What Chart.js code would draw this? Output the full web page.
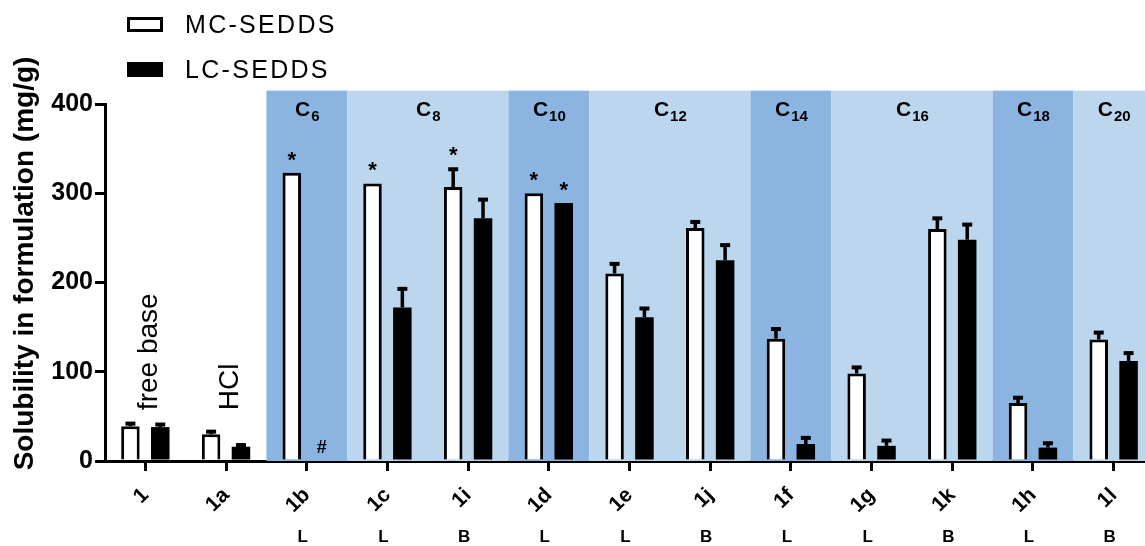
<!DOCTYPE html>
<html>
<head>
<meta charset="utf-8">
<script src="https://cdn.jsdelivr.net/npm/chart.js@4.4.3/dist/chart.umd.min.js"></script>
<style>
  html, body { margin: 0; padding: 0; background: #fff; overflow: hidden; }
  #wrap { position: relative; width: 1145px; height: 546px; overflow: hidden; }
  #legend { position: absolute; left: 127px; top: 2px; font-family: "Liberation Sans", Arial, sans-serif; font-size: 25px; letter-spacing: 2.3px; }
  .item { display: flex; align-items: center; height: 45px; }
  .box { width: 30px; height: 9px; border: 3px solid #000; margin-right: 22px; }
</style>
</head>
<body>
<div id="wrap">
  <canvas id="c" width="1154" height="546"></canvas>
  <div id="legend">
    <div class="item"><span class="box" style="background:#fff"></span>MC-SEDDS</div>
    <div class="item"><span class="box" style="background:#000"></span>LC-SEDDS</div>
  </div>
</div>
<script>
// ---------- data ----------
const compounds = ["1", "1a", "1b", "1c", "1i", "1d", "1e", "1j", "1f", "1g", "1k", "1h", "1l"];
const chainType = ["", "", "L", "L", "B", "L", "L", "B", "L", "L", "B", "L", "B"];
const saltNote = ["free base", "HCl", "", "", "", "", "", "", "", "", "", "", ""];
const yTitle = "Solubility in formulation (mg/g)";

const mcValues = [39, 30, 323, 311, 307, 300, 210, 261, 137, 98, 260, 65, 136];
const mcErrors = [4, 4, 0, 0, 21, 0, 12, 8, 12, 8, 13, 7, 9];
const lcValues = [38, 16, 0, 172, 272, 289, 161, 225, 19, 17, 248, 15, 112];
const lcErrors = [4, 3, 0, 22, 22, 0, 11, 18, 8, 7, 18, 6, 10];

const mcMarks = ["", "", "*", "*", "*", "*", "", "", "", "", "", "", ""];
const lcMarks = ["", "", "#", "", "", "*", "", "", "", "", "", "", ""];

// fatty chain groups: name, first and last compound index
const bandNames = ["6", "8", "10", "12", "14", "16", "18", "20"];
const bandFrom = [2, 3, 5, 6, 8, 9, 11, 12];
const bandTo = [2, 4, 5, 7, 8, 10, 11, 12];

const DARK = "#8bb4e0";
const LIGHT = "#bcd6ee";
const FONT = '"Liberation Sans", Arial, sans-serif';

// ---------- plugins ----------
const bands = {
  id: "bands",
  beforeDatasetsDraw(chart) {
    const { ctx, scales: { x, y }, chartArea } = chart;
    const half = (x.getPixelForValue(1) - x.getPixelForValue(0)) / 2;
    const top = y.getPixelForValue(415);
    ctx.save();
    bandNames.forEach((n, i) => {
      const x0 = x.getPixelForValue(bandFrom[i]) - half;
      const x1 = x.getPixelForValue(bandTo[i]) + half;
      ctx.fillStyle = i % 2 === 0 ? DARK : LIGHT;
      ctx.fillRect(x0, top, x1 - x0, chartArea.bottom - top);
      // C with subscript
      ctx.fillStyle = "#000";
      ctx.textBaseline = "alphabetic";
      ctx.font = "bold 21px " + FONT;
      const wC = ctx.measureText("C").width;
      ctx.font = "bold 15px " + FONT;
      const wN = ctx.measureText(n).width;
      const cx = (x0 + x1) / 2 - (wC + wN) / 2;
      ctx.font = "bold 21px " + FONT;
      ctx.fillText("C", cx, top + 25);
      ctx.font = "bold 15px " + FONT;
      ctx.fillText(n, cx + wC + 1, top + 30);
    });
    ctx.restore();
  },
};

const extras = {
  id: "extras",
  afterDatasetsDraw(chart) {
    const { ctx, scales: { x, y }, chartArea } = chart;
    const errs = [mcErrors, lcErrors];
    const marks = [mcMarks, lcMarks];
    ctx.save();
    chart.data.datasets.forEach((ds, d) => {
      chart.getDatasetMeta(d).data.forEach((bar, i) => {
        const v = ds.data[i];
        let topPx = y.getPixelForValue(v);
        if (errs[d][i] > 0) {
          const e = y.getPixelForValue(v + errs[d][i]);
          ctx.fillStyle = "#000";
          ctx.fillRect(bar.x - 1.75, e, 3.5, topPx - e);
          ctx.fillRect(bar.x - 5, e - 1, 10, 4);
          topPx = e;
        }
        const m = marks[d][i];
        if (m) {
          ctx.fillStyle = "#000";
          ctx.textAlign = "center";
          ctx.textBaseline = "middle";
          ctx.font = (m === "*" ? "bold 22px " : "bold 18px ") + FONT;
          ctx.fillText(m, bar.x, m === "*" ? topPx - 12 : topPx - 13);
        }
      });
    });
    // salt form notes, vertical
    ctx.font = "28px " + FONT;
    ctx.textAlign = "left";
    ctx.textBaseline = "middle";
    saltNote.forEach((s, i) => {
      if (!s) return;
      ctx.save();
      ctx.translate(x.getPixelForValue(i) + 4, y.getPixelForValue(57));
      ctx.rotate(-Math.PI / 2);
      ctx.fillText(s, 0, 0);
      ctx.restore();
    });
    // y axis title, a little above the middle of the axis
    ctx.save();
    ctx.font = "bold 28px " + FONT;
    ctx.textAlign = "center";
    ctx.textBaseline = "middle";
    ctx.translate(25, (chartArea.top + chartArea.bottom) / 2 - 19);
    ctx.rotate(-Math.PI / 2);
    ctx.fillText(yTitle, 0, 0);
    ctx.restore();
    // L / B row under the axis labels
    ctx.font = "bold 17px " + FONT;
    ctx.textAlign = "center";
    chainType.forEach((t, i) => {
      if (t) ctx.fillText(t, x.getPixelForValue(i) - 4, 537);
    });
    ctx.restore();
  },
};

// ---------- chart ----------
new Chart(document.getElementById("c"), {
  type: "bar",
  data: {
    labels: compounds,
    datasets: [
      {
        label: "MC-SEDDS",
        data: mcValues,
        backgroundColor: "#fff",
        borderColor: "#000",
        borderWidth: 3,
        categoryPercentage: 0.74,
        barPercentage: 0.62,
      },
      {
        label: "LC-SEDDS",
        data: lcValues,
        backgroundColor: "#000",
        borderColor: "#000",
        borderWidth: 0,
        categoryPercentage: 0.74,
        barPercentage: 0.62,
      },
    ],
  },
  options: {
    responsive: false,
    animation: false,
    layout: { padding: { top: 104, right: 0, left: 0, bottom: 0 } },
    plugins: { legend: { display: false }, tooltip: { enabled: false } },
    scales: {
      x: {
        afterFit: (s) => { s.height = 85; },
        grid: { offset: false, drawOnChartArea: false, color: "#000", tickLength: 10, lineWidth: 3 },
        border: { color: "#000", width: 3 },
        ticks: {
          color: "#000",
          font: { family: FONT, size: 21, weight: "bold" },
          minRotation: 45,
          maxRotation: 45,
          padding: 12,
        },
      },
      y: {
        min: 0,
        max: 400,
        afterFit: (s) => { s.width = 105; },
        grid: { drawOnChartArea: false, color: "#000", tickLength: 10, lineWidth: 3 },
        border: { color: "#000", width: 3 },
        ticks: {
          stepSize: 100,
          color: "#000",
          font: { family: FONT, size: 25, weight: "bold" },
          padding: 2,
        },
      },
    },
  },
  plugins: [bands, extras],
});
</script>
</body>
</html>
